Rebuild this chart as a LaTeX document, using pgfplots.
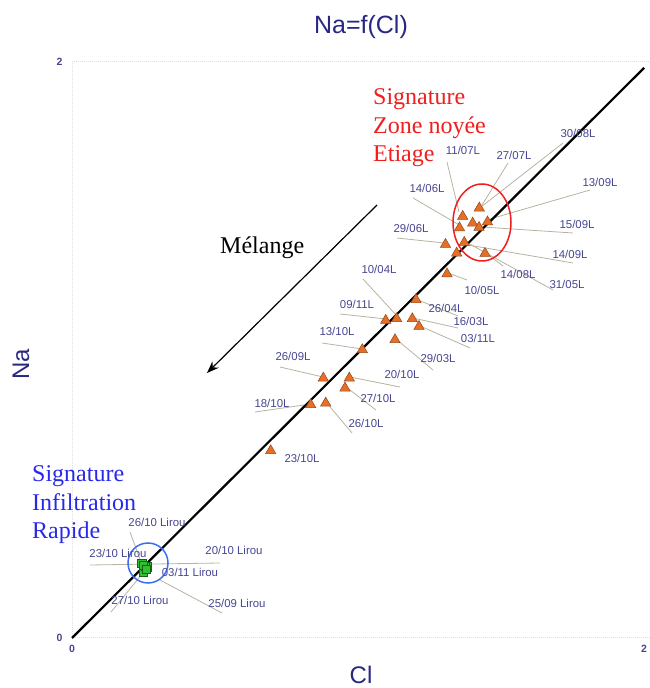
\documentclass[border=0pt]{standalone}
\usepackage{fontspec}
\setmainfont{Liberation Serif}
\newfontfamily\arial{Liberation Sans}
\usepackage{pgfplots}
\pgfplotsset{compat=1.18}
\usetikzlibrary{arrows.meta}
\definecolor{navyt}{RGB}{40,40,130}
\definecolor{lblc}{RGB}{70,70,145}
\definecolor{leader}{RGB}{185,178,160}
\definecolor{orfill}{RGB}{228,112,40}
\definecolor{ordraw}{RGB}{150,70,30}
\definecolor{grfill}{RGB}{50,190,50}
\definecolor{grdraw}{RGB}{20,100,20}
\definecolor{redt}{RGB}{240,30,30}
\definecolor{bluet}{RGB}{40,40,235}
\definecolor{bluec}{RGB}{60,110,240}
\begin{document}
\begin{tikzpicture}
\path[use as bounding box] (0,0) rectangle (649pt,688pt);
% leader lines (behind the marks)
\begin{scope}[shift={(0pt,688pt)}, x=1pt, y=-1pt, leader, line width=0.8pt]
\draw (563,143) -- (481,207);
\draw (447,162) -- (459,212);
\draw (508,163) -- (482,205);
\draw (590,190) -- (490,219);
\draw (413,198) -- (461,226);
\draw (573,233) -- (482,227);
\draw (397,238) -- (444,243);
\draw (573,263) -- (468,245);
\draw (503,266) -- (486,253);
\draw (553,290) -- (466,242);
\draw (467,280) -- (448,273);
\draw (363,279) -- (397,316);
\draw (340,314) -- (386,319);
\draw (418,300) -- (458,316);
\draw (413,318) -- (458,328);
\draw (420,326) -- (470,348);
\draw (396,339) -- (433,370);
\draw (322,343) -- (362,349);
\draw (280,367) -- (323,377);
\draw (350,377) -- (400,387);
\draw (346,387) -- (376,410);
\draw (255,412) -- (311,404);
\draw (326,402) -- (352,433);
\draw (130,532) -- (141,562);
\draw (90,565) -- (220,563);
\draw (111,612) -- (143,573);
\draw (160,580) -- (222,613);
\end{scope}
\begin{axis}[
  at={(72pt,50pt)}, anchor=south west, scale only axis,
  width=578pt, height=576pt,
  xmin=0, xmax=2, ymin=0, ymax=2,
  xtick={0,2}, ytick={0,2}, major tick length=0pt,
  xticklabels={0,\llap{2\hspace{3pt}}},
  axis line style={draw=gray!25, densely dotted, line width=1pt},
  tick label style={font=\arial\bfseries\fontsize{10.5}{12}\selectfont, text=lblc},
  xticklabel style={yshift=-4pt},
  yticklabel style={xshift=-6pt},
  /pgf/number format/assume math mode=true,
  clip=false,
]
\addplot[only marks, mark=triangle*, mark size=6pt,
  mark options={fill=orfill, draw=ordraw, line width=0.5pt}] coordinates {
  (1.4093,1.4926) (1.3519,1.4638) (1.3865,1.4405) (1.4377,1.4447)
  (1.4083,1.4256) (1.3408,1.4238) (1.3574,1.3735) (1.2924,1.3665)
  (1.3311,1.3363) (1.4291,1.3353) (1.2976,1.2641)
  (1.1903,1.1745) (1.1235,1.1085) (1.0855,1.1026) (1.1775,1.1085)
  (1.2007,1.0818) (1.1176,1.0356) (1.0045,1.0009) (0.8696,0.9023)
  (0.9595,0.9023) (0.9446,0.8676) (0.8260,0.8099) (0.8779,0.8155)
  (0.6875,0.6502)
};
\addplot[only marks, mark=square*, mark size=4.2pt,
  mark options={fill=grfill, draw=grdraw, line width=0.5pt}] coordinates {
  (0.2412,0.2594) (0.2606,0.2476) (0.2467,0.2302)
  (0.2526,0.2500) (0.2457,0.2535) (0.2561,0.2396)
};
\addplot[black, line width=2.2pt] coordinates {(0,0) (1.98,1.98)};
\end{axis}
\begin{scope}[shift={(0pt,688pt)}, x=1pt, y=-1pt]
\tikzset{lbl/.style={font=\arial\fontsize{11.4}{13}\selectfont, text=lblc, inner sep=0pt}}
% title and axis labels
\node[anchor=base, font=\arial\fontsize{25}{28}\selectfont, text=navyt] at (361,34) {Na=f(Cl)};
\node[rotate=90, font=\arial\fontsize{24}{28}\selectfont, text=navyt] at (21,364) {Na};
\node[anchor=base, font=\arial\fontsize{24}{28}\selectfont, text=navyt] at (361,683) {Cl};
% ellipses
\draw[redt, line width=1.5pt] (482,222.5) ellipse [x radius=29, y radius=38.5];
\draw[bluec, line width=1.5pt] (148,563) circle [radius=20];
% arrow
\draw[black, line width=1.2pt, -{Stealth[length=12pt,width=9pt]}] (377,205) -- (207,373);
\node[anchor=base west, font=\fontsize{24}{28}\selectfont, inner sep=0pt] at (220,254) {Mélange};
% annotations
\node[anchor=base west, font=\fontsize{24}{28}\selectfont, text=redt, inner sep=0pt] at (373,105) {Signature};
\node[anchor=base west, font=\fontsize{24}{28}\selectfont, text=redt, inner sep=0pt] at (373,133.5) {Zone noyée};
\node[anchor=base west, font=\fontsize{24}{28}\selectfont, text=redt, inner sep=0pt] at (373,162) {Etiage};
\node[anchor=base west, font=\fontsize{24}{28}\selectfont, text=bluet, inner sep=0pt] at (32,482) {Signature};
\node[anchor=base west, font=\fontsize{24}{28}\selectfont, text=bluet, inner sep=0pt] at (32,511) {Infiltration};
\node[anchor=base west, font=\fontsize{24}{28}\selectfont, text=bluet, inner sep=0pt] at (32,539) {Rapide};
% data labels
\node[lbl] at (578,133) {30/08L};
\node[lbl] at (463,150) {11/07L};
\node[lbl] at (514,155) {27/07L};
\node[lbl] at (600,182) {13/09L};
\node[lbl] at (427,188) {14/06L};
\node[lbl] at (577,224) {15/09L};
\node[lbl] at (411,228) {29/06L};
\node[lbl] at (570,254) {14/09L};
\node[lbl] at (518,274) {14/08L};
\node[lbl] at (567,284) {31/05L};
\node[lbl] at (482,290) {10/05L};
\node[lbl] at (379,269) {10/04L};
\node[lbl] at (357,304) {09/11L};
\node[lbl] at (446,308) {26/04L};
\node[lbl] at (471,321) {16/03L};
\node[lbl] at (478,338) {03/11L};
\node[lbl] at (438,358) {29/03L};
\node[lbl] at (337,331) {13/10L};
\node[lbl] at (293,356) {26/09L};
\node[lbl] at (402,374) {20/10L};
\node[lbl] at (378,398) {27/10L};
\node[lbl] at (272,403) {18/10L};
\node[lbl] at (366,423) {26/10L};
\node[lbl] at (302,458) {23/10L};
\node[lbl] at (157,522) {26/10 Lirou};
\node[lbl] at (118,553) {23/10 Lirou};
\node[lbl] at (234,550) {20/10 Lirou};
\node[lbl] at (190,572) {03/11 Lirou};
\node[lbl] at (140,600) {27/10 Lirou};
\node[lbl] at (237,603) {25/09 Lirou};
\end{scope}
\end{tikzpicture}
\end{document}
